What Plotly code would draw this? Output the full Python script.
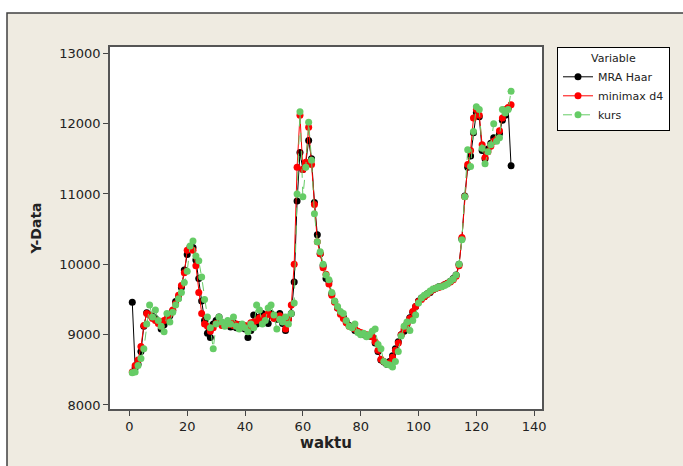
import plotly.graph_objects as go

waktu = list(range(1, 133))

mra_haar = [9460, 8530, 8580, 8760, 9120, 9310, 9280, 9260, 9230, 9180,
            9080, 9140, 9220, 9270, 9340, 9470, 9520, 9670, 9920, 10140,
            10250, 10240, 10060, 9800, 9480, 9200, 9020, 8960, 9150, 9200,
            9250, 9160, 9130, 9180, 9110, 9170, 9100, 9140, 9140, 9080,
            8960, 9060, 9280, 9150, 9250, 9300, 9180, 9160, 9300, 9240,
            9220, 9300, 9160, 9060, 9220, 9300, 9750, 10900, 11590, 11350,
            11440, 11760, 11500, 10880, 10420, 10150, 9980, 9800, 9760, 9580,
            9470, 9380, 9310, 9250, 9180, 9130, 9110, 9060, 9040, 9010,
            9000, 8990, 8980, 8970, 8880, 8760, 8640, 8610, 8580, 8620,
            8700, 8800, 8900, 9000, 9050, 9150, 9240, 9320, 9400, 9480,
            9520, 9540, 9580, 9600, 9640, 9660, 9680, 9690, 9710, 9730,
            9760, 9800, 9850, 10000, 10360, 10970, 11380, 11540, 11870, 12160,
            12100, 11620, 11500, 11640, 11720, 11800, 11790, 11860, 12050, 12120,
            12220, 11400]

minimax_d4 = [8470, 8560, 8640, 8830, 9130, 9300, 9280, 9230, 9200, 9160,
              9120, 9200, 9230, 9290, 9350, 9440, 9560, 9700, 9880, 10200,
              10220, 10200, 9980, 9600, 9300, 9150, 9120, 9050, 9100, 9160,
              9170, 9130, 9160, 9140, 9180, 9130, 9150, 9100, 9120, 9130,
              9110, 9170, 9180, 9200, 9240, 9220, 9260, 9300, 9280, 9230,
              9250, 9270, 9240, 9080, 9220, 9420, 10000, 11380, 12120, 11350,
              11450, 11950, 11420, 10850, 10320, 10150, 9950, 9860, 9720, 9560,
              9460, 9380, 9290, 9230, 9170, 9120, 9110, 9080, 9050, 9030,
              9010, 9000, 8990, 8970, 8900, 8780, 8650, 8620, 8590, 8600,
              8680, 8780, 8880, 9000, 9080, 9150, 9230, 9330, 9400, 9470,
              9500, 9540, 9570, 9610, 9640, 9660, 9670, 9690, 9710, 9730,
              9750, 9780, 9830, 9980, 10380, 10960, 11420, 11620, 12080, 12200,
              12120, 11700, 11520, 11600, 11680, 11750, 11780, 11900, 12080, 12200,
              12230, 12270]

kurs = [8460, 8470, 8560, 8660, 8800, 9150, 9420, 9250, 9350, 9200,
        9120, 9040, 9300, 9180, 9320, 9420, 9510, 9600, 9740, 9900,
        10260, 10330, 10120, 10050, 9820, 9500, 9250, 9100, 8800, 9150,
        9250, 9180, 9120, 9200, 9150, 9250, 9120, 9080, 9150, 9100,
        9040, 9150, 9100, 9420, 9350, 9150, 9200, 9380, 9420, 9280,
        9080, 9220, 9180, 9250, 9150, 9300, 9450, 11000, 12170, 10960,
        11380, 12020, 11480, 10720, 10320, 10180, 10000, 9850, 9780, 9600,
        9480, 9400, 9330, 9300, 9200, 9120, 9100, 9150, 9030, 9000,
        9020, 8970, 9000, 9050, 9080, 8860, 8800, 8620, 8580, 8570,
        8540, 8620, 8760, 8980, 9120, 9180, 9060, 9200, 9280, 9450,
        9520, 9560, 9580, 9620, 9650, 9660, 9680, 9680, 9700, 9720,
        9760, 9790, 9850, 10000, 10350, 10960, 11630, 11390, 11890, 12240,
        12200, 11650, 11430, 11600, 11700, 12000, 11750, 11800, 12200, 12150,
        12200, 12460]

x_ticks = [0, 20, 40, 60, 80, 100, 120, 140]
y_ticks = [8000, 9000, 10000, 11000, 12000, 13000]
y_tick_labels = [str(v) for v in y_ticks]

FONT = "DejaVu Sans"

fig = go.Figure()
fig.add_trace(go.Scatter(x=waktu, y=mra_haar, name="MRA Haar", mode="lines+markers",
                         line=dict(color="black", width=1),
                         marker=dict(color="black", size=7)))
fig.add_trace(go.Scatter(x=waktu, y=minimax_d4, name="minimax d4", mode="lines+markers",
                         line=dict(color="#ff0000", width=1),
                         marker=dict(color="#ff0000", size=7)))
fig.add_trace(go.Scatter(x=waktu, y=kurs, name="kurs", mode="lines+markers",
                         line=dict(color="#66cc66", width=1, dash="dash"),
                         marker=dict(color="#66cc66", size=7)))

L, R, T, B = 110, 141, 47, 57
W, H = 683, 466
pw, ph = W - L - R, H - T - B

def px(xp):
    return (xp - L) / pw

def py(yp):
    return (H - B - yp) / ph

# beige outer panel
fig.add_shape(type="rect", xref="paper", yref="paper",
              x0=px(7), x1=px(700), y0=py(480), y1=py(13),
              fillcolor="#efebe1", line=dict(color="#404040", width=1.5),
              layer="below")
# white plot area
fig.add_shape(type="rect", xref="paper", yref="paper",
              x0=0, x1=1, y0=0, y1=1,
              fillcolor="white", line=dict(width=0),
              layer="below")

fig.update_layout(
    width=W, height=H,
    margin=dict(l=L, r=R, t=T, b=B),
    paper_bgcolor="white",
    plot_bgcolor="rgba(0,0,0,0)",
    font=dict(family=FONT, color="#222222", size=13),
    showlegend=True,
    legend=dict(
        x=px(557), y=1.0, xanchor="left", yanchor="top",
        bgcolor="white", bordercolor="black", borderwidth=1,
        font=dict(family=FONT, size=11, color="#222222"),
        title=dict(text="Variable", side="top center",
                   font=dict(family=FONT, size=11, color="#222222")),
        itemwidth=30, tracegroupgap=0,
    ),
    xaxis=dict(
        range=[-6.7, 142.7], tickmode="array", tickvals=x_ticks,
        ticks="outside", ticklen=5, tickcolor="#444444",
        showline=True, linecolor="#555555", linewidth=1.5, mirror=True,
        showgrid=False, zeroline=False,
        title=dict(text="<b>waktu</b>", font=dict(family=FONT, size=15, color="#222222"), standoff=3),
        tickfont=dict(family=FONT, size=13, color="#222222"),
    ),
    yaxis=dict(
        range=[7943, 13090], tickmode="array", tickvals=y_ticks, ticktext=y_tick_labels,
        ticks="outside", ticklen=5, tickcolor="#444444",
        showline=True, linecolor="#555555", linewidth=1.5, mirror=True,
        showgrid=False, zeroline=False,
        title=dict(text="<b>Y-Data</b>", font=dict(family=FONT, size=14, color="#222222"), standoff=14),
        tickfont=dict(family=FONT, size=13, color="#222222"),
    ),
)

fig.write_html("out.html", config={"displayModeBar": False},
               post_script="document.body.style.margin='0';document.body.style.padding='0';")
